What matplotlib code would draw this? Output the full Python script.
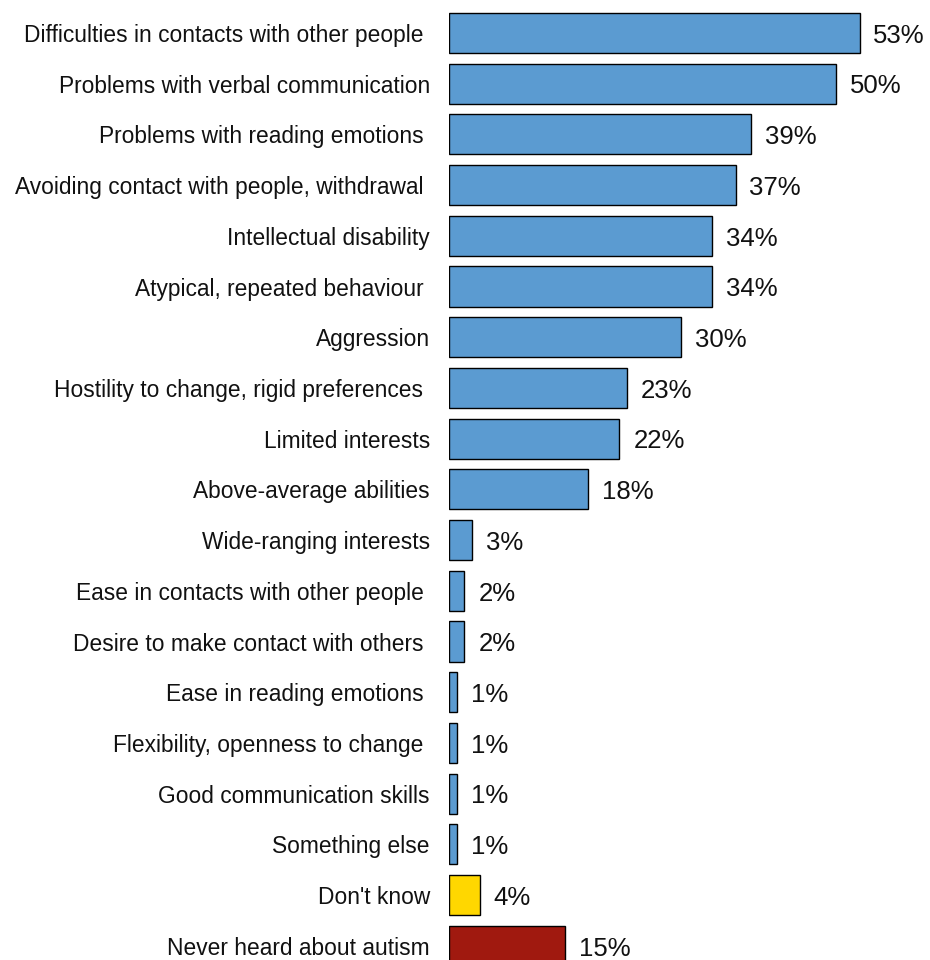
import matplotlib
matplotlib.use("Agg")
import matplotlib.pyplot as plt

categories = [
    "Difficulties in contacts with other people ",
    "Problems with verbal communication",
    "Problems with reading emotions ",
    "Avoiding contact with people, withdrawal ",
    "Intellectual disability",
    "Atypical, repeated behaviour ",
    "Aggression",
    "Hostility to change, rigid preferences ",
    "Limited interests",
    "Above-average abilities",
    "Wide-ranging interests",
    "Ease in contacts with other people ",
    "Desire to make contact with others ",
    "Ease in reading emotions ",
    "Flexibility, openness to change ",
    "Good communication skills",
    "Something else",
    "Don't know",
    "Never heard about autism",
]
values = [53, 50, 39, 37, 34, 34, 30, 23, 22, 18, 3, 2, 2, 1, 1, 1, 1, 4, 15]
blue = "#5B9BD1"
colors = [blue] * 17 + ["#FFD700", "#A0190F"]

plt.rcParams['font.family'] = ['Liberation Sans', 'DejaVu Sans']

fig = plt.figure(figsize=(9.3, 9.6), dpi=100)
ax = fig.add_axes([449 / 930, 0, 1 - 449 / 930, 1])
ypos = list(range(len(categories)))
ax.barh(ypos, values, height=0.79, color=colors, edgecolor="black", linewidth=1.0)
ax.set_ylim(18.28, -0.65)
ax.set_xlim(0, 62.1)
ax.set_yticks(ypos)
ax.set_yticklabels(categories, fontsize=16.4, color="#111111")
ax.tick_params(axis='y', length=0, pad=13.8)
ax.set_xticks([])
for s in ax.spines.values():
    s.set_visible(False)
for y, v in zip(ypos, values):
    ax.annotate(f"{v}%", xy=(v, y), xytext=(10, -2), textcoords="offset points",
                ha="left", va="center", fontsize=18.5, color="#111111", clip_on=False)
fig.savefig("out.png", dpi=100)
